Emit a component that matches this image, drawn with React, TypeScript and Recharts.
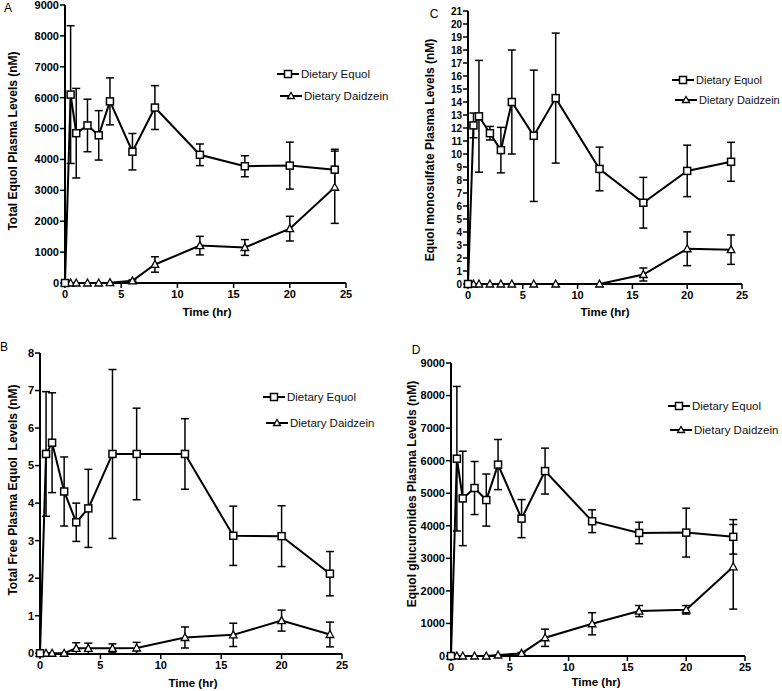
import React from 'react';
import { LineChart, Line, XAxis, YAxis, ErrorBar } from 'recharts';

// Sampling times (hr)
const times = [0, 0.5, 1, 2, 3, 4, 6, 8, 12, 16, 20, 24];

// A: total equol
const totalEq = [0, 6100, 4850, 5100, 4780, 5880, 4250, 5680, 4150, 3780, 3800, 3670];
const totalEqErr = [0, 2230, 1450, 850, 800, 760, 590, 710, 350, 340, 760, 660];
const totalDz = [0, 0, 0, 0, 0, 10, 70, 600, 1210, 1150, 1760, 3100];
const totalDzErr = [0, 0, 0, 0, 0, 0, 30, 250, 300, 255, 400, 1170];

// B: total free equol
const freeEq = [0, 5.31, 5.61, 4.31, 3.49, 3.86, 5.31, 5.31, 5.31, 3.13, 3.12, 2.12];
const freeEqErr = [0, 1.66, 1.33, 0.92, 0.51, 1.04, 2.25, 1.22, 0.94, 0.79, 0.81, 0.59];
const freeDz = [0, 0, 0, 0, 0.13, 0.13, 0.13, 0.14, 0.42, 0.49, 0.87, 0.5];
const freeDzErr = [0, 0, 0, 0, 0.15, 0.14, 0.12, 0.15, 0.28, 0.31, 0.28, 0.33];

// C: equol monosulfate
const sulfEq = [0, 12.2, 12.9, 11.6, 10.3, 14.0, 11.4, 14.3, 8.85, 6.25, 8.7, 9.4];
const sulfEqErr = [0, 0.95, 4.3, 0.52, 1.75, 4.0, 5.05, 5.0, 1.68, 1.95, 1.98, 1.5];
const sulfDz = [0, 0, 0, 0, 0, 0, 0, 0, 0, 0.73, 2.71, 2.64];
const sulfDzErr = [0, 0, 0, 0, 0, 0, 0, 0, 0, 0.5, 1.3, 1.13];

// D: equol glucuronides
const glucEq = [0, 6060, 4840, 5160, 4790, 5880, 4220, 5680, 4140, 3780, 3790, 3660];
const glucEqErr = [0, 2220, 1450, 815, 800, 770, 585, 705, 350, 330, 750, 530];
const glucDz = [0, 0, 0, 0, 0, 30, 80, 560, 990, 1380, 1420, 2740];
const glucDzErr = [0, 0, 0, 0, 0, 0, 30, 265, 340, 170, 130, 1300];

const ticks9000 = [0, 1000, 2000, 3000, 4000, 5000, 6000, 7000, 8000, 9000];
const ticks21 = Array.from({ length: 22 }, (_, i) => i);
const ticks8 = [0, 1, 2, 3, 4, 5, 6, 7, 8];
const xTicks = [0, 5, 10, 15, 20, 25];

const FONT = '"Liberation Sans", Arial, sans-serif';

const rows = (eq: number[], eqErr: number[], dz: number[], dzErr: number[]) =>
  times.map((t, i) => ({ t, eq: eq[i], eqErr: eqErr[i], dz: dz[i], dzErr: dzErr[i] }));

const square = (p: any) => (
  <rect key={`s${p.index}`} x={p.cx - 3.5} y={p.cy - 3.5} width={7} height={7}
    fill="#fff" stroke="#000" strokeWidth={1.5} />
);
const triangle = (p: any) => (
  <polygon key={`t${p.index}`}
    points={`${p.cx},${p.cy - 4} ${p.cx - 3.8},${p.cy + 3} ${p.cx + 3.8},${p.cy + 3}`}
    fill="#fff" stroke="#000" strokeWidth={1.3} />
);

function Panel({
  left, top, width, height, margin, yWidth, yDomain, yTicks, yFont, data,
}: any) {
  return (
    <div style={{ position: 'absolute', left, top }}>
      <LineChart width={width} height={height} data={data} margin={margin}>
        <XAxis
          type="number" dataKey="t" domain={[0, 25]} ticks={xTicks}
          axisLine={{ stroke: '#000', strokeWidth: 2 }}
          tickLine={{ stroke: '#000', strokeWidth: 1.5 }}
          tickSize={5} height={25}
          tick={{ fill: '#000', fontSize: 11, fontWeight: 700, fontFamily: FONT }}
        />
        <YAxis
          type="number" domain={yDomain} ticks={yTicks} interval={0}
          width={yWidth}
          axisLine={{ stroke: '#000', strokeWidth: 2 }}
          tickLine={{ stroke: '#000', strokeWidth: 1.5 }}
          tickSize={5} tickMargin={1}
          tick={{ fill: '#000', fontSize: yFont, fontWeight: 700, fontFamily: FONT }}
        />
        <Line dataKey="dz" stroke="#000" strokeWidth={2} dot={triangle} isAnimationActive={false}>
          <ErrorBar dataKey="dzErr" direction="y" width={4} stroke="#000" strokeWidth={1.5} />
        </Line>
        <Line dataKey="eq" stroke="#000" strokeWidth={2} dot={square} isAnimationActive={false}>
          <ErrorBar dataKey="eqErr" direction="y" width={4} stroke="#000" strokeWidth={1.5} />
        </Line>
      </LineChart>
    </div>
  );
}

function LegendRow({ x, y, tri, label, size = 11.5 }: { x: number; y: number; tri?: boolean; label: string; size?: number }) {
  return (
    <div style={{ position: 'absolute', left: x, top: y - 8, height: 16, display: 'flex', alignItems: 'center', whiteSpace: 'nowrap', fontFamily: FONT, fontSize: size, color: '#111' }}>
      <svg width={22} height={14} style={{ marginRight: 2, flexShrink: 0 }}>
        <line x1={0} y1={7} x2={22} y2={7} stroke="#000" strokeWidth={2} />
        {tri
          ? <polygon points="11,3.5 7.5,9.5 14.5,9.5" fill="#fff" stroke="#000" strokeWidth={1.3} />
          : <rect x={7.5} y={3.5} width={7} height={7} fill="#fff" stroke="#000" strokeWidth={1.5} />}
      </svg>
      <span>{label}</span>
    </div>
  );
}

const text = (s: string, x: number, y: number, opts: any = {}) => (
  <div style={{
    position: 'absolute', left: x, top: y, whiteSpace: 'pre', fontFamily: FONT,
    fontSize: 12, fontWeight: 700, color: '#000', lineHeight: '14px',
    transform: `translate(-50%, -50%)${opts.rotate ? ' rotate(-90deg)' : ''}`,
    ...opts.style,
  }}>{s}</div>
);

const letter = { fontWeight: 400, fontSize: 12 };
const xTitle = { fontSize: 11.5 };

export default function App() {
  return (
    <div style={{ position: 'absolute', left: 0, top: 0, width: 782, height: 691, background: '#fff', overflow: 'hidden' }}>
      {/* A */}
      <Panel left={0} top={0} width={390} height={330}
        margin={{ top: 5, right: 44, bottom: 22, left: 25 }} yWidth={40}
        yDomain={[0, 9000]} yTicks={ticks9000} yFont={11}
        data={rows(totalEq, totalEqErr, totalDz, totalDzErr)} />
      {/* C */}
      <Panel left={390} top={0} width={392} height={330}
        margin={{ top: 11, right: 40, bottom: 21, left: 38 }} yWidth={40}
        yDomain={[0, 21]} yTicks={ticks21} yFont={10}
        data={rows(sulfEq, sulfEqErr, sulfDz, sulfDzErr)} />
      {/* B */}
      <Panel left={0} top={330} width={390} height={361}
        margin={{ top: 23, right: 48, bottom: 12, left: 10 }} yWidth={30}
        yDomain={[0, 8]} yTicks={ticks8} yFont={11}
        data={rows(freeEq, freeEqErr, freeDz, freeDzErr)} />
      {/* D */}
      <Panel left={390} top={330} width={392} height={361}
        margin={{ top: 33, right: 37, bottom: 10, left: 21 }} yWidth={40}
        yDomain={[0, 9000]} yTicks={ticks9000} yFont={11}
        data={rows(glucEq, glucEqErr, glucDz, glucDzErr)} />

      {text('A', 8, 8, { style: letter })}
      {text('C', 434, 14, { style: letter })}
      {text('B', 4, 347, { style: letter })}
      {text('D', 416, 350, { style: letter })}

      {text('Total Equol Plasma Levels (nM)', 13, 141, { rotate: true })}
      {text('Equol monosulfate Plasma Levels (nM)', 430, 150, { rotate: true })}
      {text('Total Free Plasma Equol  Levels (nM)', 13, 490, { rotate: true })}
      {text('Equol glucuronides Plasma Levels (nM)', 412, 494, { rotate: true })}

      {text('Time (hr)', 207, 312, { style: xTitle })}
      {text('Time (hr)', 605, 312, { style: xTitle })}
      {text('Time (hr)', 193, 683, { style: xTitle })}
      {text('Time (hr)', 596, 682, { style: xTitle })}

      <LegendRow x={277} y={74} label="Dietary Equol" />
      <LegendRow x={280} y={96} tri label="Dietary Daidzein" />
      <LegendRow x={672} y={80} size={11} label="Dietary Equol" />
      <LegendRow x={675} y={100} size={11} tri label="Dietary Daidzein" />
      <LegendRow x={263} y={397} label="Dietary Equol" />
      <LegendRow x={266} y={423} tri label="Dietary Daidzein" />
      <LegendRow x={668} y={406} label="Dietary Equol" />
      <LegendRow x={670} y={430} tri label="Dietary Daidzein" />
    </div>
  );
}
